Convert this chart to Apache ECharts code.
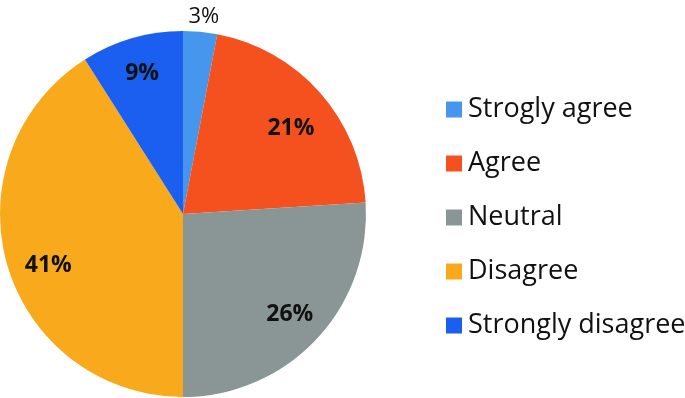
<!DOCTYPE html>
<html>
<head>
<meta charset="utf-8">
<script src="https://cdn.jsdelivr.net/npm/echarts@6/dist/echarts.min.js"></script>
<style>
  html, body { margin: 0; padding: 0; background: #fff; }
  #chart { width: 685px; height: 398px; }
</style>
</head>
<body>
<div id="chart"></div>
<script>
const categories = ["Strogly agree", "Agree", "Neutral", "Disagree", "Strongly disagree"];
const values = [3, 21, 26, 41, 9];
const colors = ["#4796ee", "#f4511e", "#8a9595", "#f9aa1c", "#1b5ff0"];

const FONT = "Open Sans";

const chart = echarts.init(document.getElementById("chart"));

// main slices; only the tiny 3% slice gets an outside label
const mainData = categories.map((name, i) => ({
  name,
  value: values[i],
  itemStyle: { color: colors[i] },
  label: i === 0
    ? { show: true, position: "outside", formatter: "{c}%", fontSize: 22, color: "#111", fontFamily: FONT }
    : { show: false },
  labelLine: { show: false, length: 6, length2: 0 }
}));

// transparent ring so inside labels sit out near the rim like the original
const labelData = categories.map((name, i) => ({
  name,
  value: values[i],
  label: { show: i !== 0 }
}));

// small nudges so the inside labels land where Excel put them
const nudge = { 1: { dx: -2, dy: 11 }, 3: { dx: 6, dy: 11 } };

chart.setOption({
  animation: false,
  legend: {
    orient: "vertical",
    left: 441,
    top: 91,
    icon: "rect",
    itemWidth: 16,
    itemHeight: 16,
    itemGap: 27,
    textStyle: { fontSize: 27, color: "#111", fontFamily: FONT, padding: [0, 0, 0, 1] },
    data: categories
  },
  series: [
    {
      type: "pie",
      center: [183, 214],
      radius: [0, 183],
      startAngle: 90,
      clockwise: true,
      silent: true,
      data: mainData,
      labelLayout: (p) => (p.dataIndex === 0 ? { align: "center", dx: -2, dy: -9 } : {})
    },
    {
      type: "pie",
      center: [183, 214],
      radius: [104, 183],
      startAngle: 90,
      clockwise: true,
      silent: true,
      itemStyle: { color: "rgba(0,0,0,0)" },
      label: {
        position: "inside",
        formatter: "{c}%",
        fontSize: 23,
        fontWeight: "bold",
        color: "#111",
        fontFamily: FONT
      },
      labelLine: { show: false },
      labelLayout: (p) => nudge[p.dataIndex] || {},
      data: labelData
    }
  ]
});
</script>
</body>
</html>
